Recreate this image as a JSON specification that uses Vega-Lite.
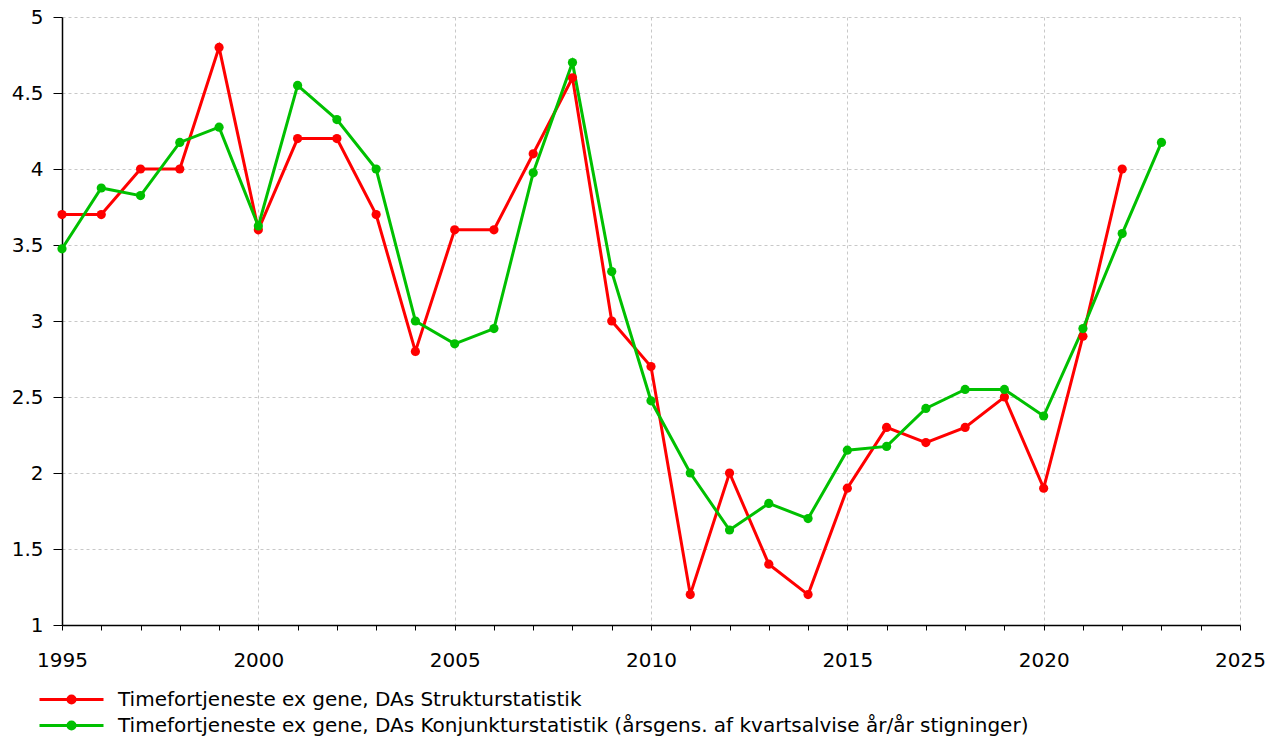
{
  "$schema": "https://vega.github.io/schema/vega-lite/v6.json",
  "width": 1178,
  "height": 608,
  "autosize": {"type": "none"},
  "padding": {"left": 62, "top": 17, "right": 44, "bottom": 111},
  "background": "white",
  "config": {
    "view": {"stroke": null},
    "font": "DejaVu Sans",
    "legend": {"padding": 0}
  },
  "data": {
    "values": [
      {"year": 1995, "series": "Timefortjeneste ex gene, DAs Strukturstatistik", "value": 3.7},
      {"year": 1996, "series": "Timefortjeneste ex gene, DAs Strukturstatistik", "value": 3.7},
      {"year": 1997, "series": "Timefortjeneste ex gene, DAs Strukturstatistik", "value": 4.0},
      {"year": 1998, "series": "Timefortjeneste ex gene, DAs Strukturstatistik", "value": 4.0},
      {"year": 1999, "series": "Timefortjeneste ex gene, DAs Strukturstatistik", "value": 4.8},
      {"year": 2000, "series": "Timefortjeneste ex gene, DAs Strukturstatistik", "value": 3.6},
      {"year": 2001, "series": "Timefortjeneste ex gene, DAs Strukturstatistik", "value": 4.2},
      {"year": 2002, "series": "Timefortjeneste ex gene, DAs Strukturstatistik", "value": 4.2},
      {"year": 2003, "series": "Timefortjeneste ex gene, DAs Strukturstatistik", "value": 3.7},
      {"year": 2004, "series": "Timefortjeneste ex gene, DAs Strukturstatistik", "value": 2.8},
      {"year": 2005, "series": "Timefortjeneste ex gene, DAs Strukturstatistik", "value": 3.6},
      {"year": 2006, "series": "Timefortjeneste ex gene, DAs Strukturstatistik", "value": 3.6},
      {"year": 2007, "series": "Timefortjeneste ex gene, DAs Strukturstatistik", "value": 4.1},
      {"year": 2008, "series": "Timefortjeneste ex gene, DAs Strukturstatistik", "value": 4.6},
      {"year": 2009, "series": "Timefortjeneste ex gene, DAs Strukturstatistik", "value": 3.0},
      {"year": 2010, "series": "Timefortjeneste ex gene, DAs Strukturstatistik", "value": 2.7},
      {"year": 2011, "series": "Timefortjeneste ex gene, DAs Strukturstatistik", "value": 1.2},
      {"year": 2012, "series": "Timefortjeneste ex gene, DAs Strukturstatistik", "value": 2.0},
      {"year": 2013, "series": "Timefortjeneste ex gene, DAs Strukturstatistik", "value": 1.4},
      {"year": 2014, "series": "Timefortjeneste ex gene, DAs Strukturstatistik", "value": 1.2},
      {"year": 2015, "series": "Timefortjeneste ex gene, DAs Strukturstatistik", "value": 1.9},
      {"year": 2016, "series": "Timefortjeneste ex gene, DAs Strukturstatistik", "value": 2.3},
      {"year": 2017, "series": "Timefortjeneste ex gene, DAs Strukturstatistik", "value": 2.2},
      {"year": 2018, "series": "Timefortjeneste ex gene, DAs Strukturstatistik", "value": 2.3},
      {"year": 2019, "series": "Timefortjeneste ex gene, DAs Strukturstatistik", "value": 2.5},
      {"year": 2020, "series": "Timefortjeneste ex gene, DAs Strukturstatistik", "value": 1.9},
      {"year": 2021, "series": "Timefortjeneste ex gene, DAs Strukturstatistik", "value": 2.9},
      {"year": 2022, "series": "Timefortjeneste ex gene, DAs Strukturstatistik", "value": 4.0},
      {"year": 1995, "series": "Timefortjeneste ex gene, DAs Konjunkturstatistik (årsgens. af kvartsalvise år/år stigninger)", "value": 3.475},
      {"year": 1996, "series": "Timefortjeneste ex gene, DAs Konjunkturstatistik (årsgens. af kvartsalvise år/år stigninger)", "value": 3.875},
      {"year": 1997, "series": "Timefortjeneste ex gene, DAs Konjunkturstatistik (årsgens. af kvartsalvise år/år stigninger)", "value": 3.825},
      {"year": 1998, "series": "Timefortjeneste ex gene, DAs Konjunkturstatistik (årsgens. af kvartsalvise år/år stigninger)", "value": 4.175},
      {"year": 1999, "series": "Timefortjeneste ex gene, DAs Konjunkturstatistik (årsgens. af kvartsalvise år/år stigninger)", "value": 4.275},
      {"year": 2000, "series": "Timefortjeneste ex gene, DAs Konjunkturstatistik (årsgens. af kvartsalvise år/år stigninger)", "value": 3.625},
      {"year": 2001, "series": "Timefortjeneste ex gene, DAs Konjunkturstatistik (årsgens. af kvartsalvise år/år stigninger)", "value": 4.55},
      {"year": 2002, "series": "Timefortjeneste ex gene, DAs Konjunkturstatistik (årsgens. af kvartsalvise år/år stigninger)", "value": 4.325},
      {"year": 2003, "series": "Timefortjeneste ex gene, DAs Konjunkturstatistik (årsgens. af kvartsalvise år/år stigninger)", "value": 4.0},
      {"year": 2004, "series": "Timefortjeneste ex gene, DAs Konjunkturstatistik (årsgens. af kvartsalvise år/år stigninger)", "value": 3.0},
      {"year": 2005, "series": "Timefortjeneste ex gene, DAs Konjunkturstatistik (årsgens. af kvartsalvise år/år stigninger)", "value": 2.85},
      {"year": 2006, "series": "Timefortjeneste ex gene, DAs Konjunkturstatistik (årsgens. af kvartsalvise år/år stigninger)", "value": 2.95},
      {"year": 2007, "series": "Timefortjeneste ex gene, DAs Konjunkturstatistik (årsgens. af kvartsalvise år/år stigninger)", "value": 3.975},
      {"year": 2008, "series": "Timefortjeneste ex gene, DAs Konjunkturstatistik (årsgens. af kvartsalvise år/år stigninger)", "value": 4.7},
      {"year": 2009, "series": "Timefortjeneste ex gene, DAs Konjunkturstatistik (årsgens. af kvartsalvise år/år stigninger)", "value": 3.325},
      {"year": 2010, "series": "Timefortjeneste ex gene, DAs Konjunkturstatistik (årsgens. af kvartsalvise år/år stigninger)", "value": 2.475},
      {"year": 2011, "series": "Timefortjeneste ex gene, DAs Konjunkturstatistik (årsgens. af kvartsalvise år/år stigninger)", "value": 2.0},
      {"year": 2012, "series": "Timefortjeneste ex gene, DAs Konjunkturstatistik (årsgens. af kvartsalvise år/år stigninger)", "value": 1.625},
      {"year": 2013, "series": "Timefortjeneste ex gene, DAs Konjunkturstatistik (årsgens. af kvartsalvise år/år stigninger)", "value": 1.8},
      {"year": 2014, "series": "Timefortjeneste ex gene, DAs Konjunkturstatistik (årsgens. af kvartsalvise år/år stigninger)", "value": 1.7},
      {"year": 2015, "series": "Timefortjeneste ex gene, DAs Konjunkturstatistik (årsgens. af kvartsalvise år/år stigninger)", "value": 2.15},
      {"year": 2016, "series": "Timefortjeneste ex gene, DAs Konjunkturstatistik (årsgens. af kvartsalvise år/år stigninger)", "value": 2.175},
      {"year": 2017, "series": "Timefortjeneste ex gene, DAs Konjunkturstatistik (årsgens. af kvartsalvise år/år stigninger)", "value": 2.425},
      {"year": 2018, "series": "Timefortjeneste ex gene, DAs Konjunkturstatistik (årsgens. af kvartsalvise år/år stigninger)", "value": 2.55},
      {"year": 2019, "series": "Timefortjeneste ex gene, DAs Konjunkturstatistik (årsgens. af kvartsalvise år/år stigninger)", "value": 2.55},
      {"year": 2020, "series": "Timefortjeneste ex gene, DAs Konjunkturstatistik (årsgens. af kvartsalvise år/år stigninger)", "value": 2.375},
      {"year": 2021, "series": "Timefortjeneste ex gene, DAs Konjunkturstatistik (årsgens. af kvartsalvise år/år stigninger)", "value": 2.95},
      {"year": 2022, "series": "Timefortjeneste ex gene, DAs Konjunkturstatistik (årsgens. af kvartsalvise år/år stigninger)", "value": 3.575},
      {"year": 2023, "series": "Timefortjeneste ex gene, DAs Konjunkturstatistik (årsgens. af kvartsalvise år/år stigninger)", "value": 4.175}
    ]
  },
  "encoding": {
    "x": {
      "field": "year",
      "type": "quantitative",
      "title": null,
      "scale": {"domain": [1995, 2025], "nice": false, "zero": false},
      "axis": {
        "values": [1995,1996,1997,1998,1999,2000,2001,2002,2003,2004,2005,2006,2007,2008,2009,2010,2011,2012,2013,2014,2015,2016,2017,2018,2019,2020,2021,2022,2023,2024,2025],
        "labelExpr": "datum.value % 5 === 0 ? datum.value : ''",
        "format": "d",
        "domainColor": "#000000",
        "domainWidth": 1.5,
        "tickColor": "#000000",
        "tickWidth": 1,
        "tickSize": 5,
        "gridColor": "#c8c8c8",
        "gridDash": [3, 3],
        "labelFont": "DejaVu Sans",
        "labelFontSize": 20,
        "labelColor": "#000000",
        "labelPadding": 20,
        "gridOpacity": {"expr": "datum.value % 5 === 0 && datum.value > 1995 ? 1 : 0"},
        "labelFlush": false,
        "labelOverlap": false
      }
    },
    "y": {
      "field": "value",
      "type": "quantitative",
      "title": null,
      "scale": {"domain": [1, 5], "nice": false, "zero": false},
      "axis": {
        "values": [1, 1.5, 2, 2.5, 3, 3.5, 4, 4.5, 5],
        "format": "~g",
        "domainColor": "#000000",
        "domainWidth": 1.5,
        "tickColor": "#000000",
        "tickWidth": 1,
        "tickSize": 9,
        "gridColor": "#c8c8c8",
        "gridDash": [3, 3],
        "labelFont": "DejaVu Sans",
        "labelFontSize": 20,
        "labelColor": "#000000",
        "labelPadding": 10,
        "labelFlush": false,
        "labelOverlap": false,
        "gridOpacity": {"expr": "datum.value > 1 ? 1 : 0"}
      }
    },
    "color": {
      "field": "series",
      "type": "nominal",
      "sort": null,
      "scale": {
        "domain": ["Timefortjeneste ex gene, DAs Strukturstatistik", "Timefortjeneste ex gene, DAs Konjunkturstatistik (årsgens. af kvartsalvise år/år stigninger)"],
        "range": ["#ff0000", "#00c000"]
      },
      "legend": {
        "title": null,
        "orient": "none",
        "legendX": -2,
        "legendY": 671,
        "direction": "vertical",
        "symbolType": "M-3.2,0L3.2,0M-0.35,0A0.35,0.35,0,1,1,0.35,0A0.35,0.35,0,1,1,-0.35,0Z",
        "symbolSize": 400,
        "symbolStrokeWidth": 3,
        "symbolOpacity": 1,
        "labelFont": "DejaVu Sans",
        "labelFontSize": 20,
        "labelColor": "#000000",
        "labelOffset": 35,
        "labelLimit": 1200,
        "rowPadding": 4
      }
    }
  },
  "layer": [
    {"mark": {"type": "line", "strokeWidth": 3}},
    {"mark": {"type": "point", "filled": true, "size": 85, "opacity": 1}}
  ]
}
